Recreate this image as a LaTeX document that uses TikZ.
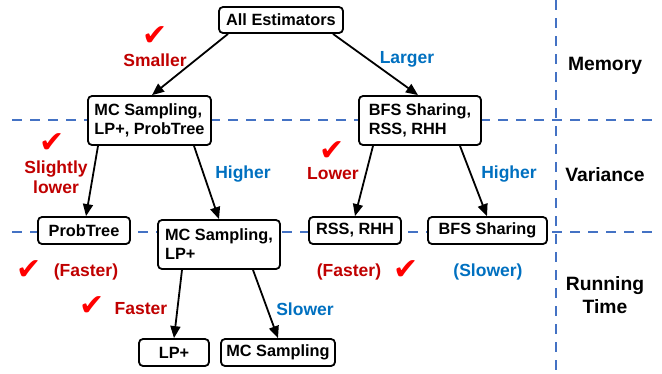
\documentclass[tikz,border=0pt]{standalone}
\usepackage{fontspec}
\setmainfont{Liberation Sans}
\newfontfamily\symfont{DejaVu Sans}
\usetikzlibrary{arrows.meta}
\definecolor{myred}{HTML}{C00000}
\definecolor{myblue}{HTML}{0070C0}
\definecolor{dashblue}{HTML}{4472C4}
\begin{document}
\begin{tikzpicture}[x=1pt,y=-1pt,
  box/.style={draw=black,line width=1.8pt,rounded corners=4pt,fill=white,font=\bfseries\fontsize{16.3}{19}\selectfont,align=left,inner sep=0pt},
  conn/.style={line width=1.8pt,-{Triangle[length=12pt,width=10pt]}},
  sep/.style={dashblue,line width=1.8pt,dash pattern=on 10pt off 8pt},
  redlbl/.style={text=myred,font=\bfseries\fontsize{17.5}{20}\selectfont,align=center},
  bluelbl/.style={text=myblue,font=\bfseries\fontsize{17.5}{20}\selectfont,align=center},
  side/.style={text=black,font=\bfseries\fontsize{19.3}{23}\selectfont,align=center},
  chk/.style={text=red,font=\symfont\fontsize{30}{30}\selectfont,inner sep=0pt}]
\useasboundingbox (0,0) rectangle (662,373);
% separators
\draw[sep] (12,120) -- (652,120);
\draw[sep] (12,232) -- (652,232);
\draw[sep] (556,0) -- (556,373);
% nodes
\node[box,minimum width=124pt,minimum height=26pt,align=center] (all) at (281,20) {All Estimators};
\node[box,minimum width=123pt,minimum height=49pt] (mclp) at (149.5,120.5) {MC Sampling,\\LP+, ProbTree};
\node[box,minimum width=122pt,minimum height=49pt] (bfsr) at (420,120.5) {BFS Sharing,\\RSS, RHH};
\node[box,minimum width=92pt,minimum height=27pt,align=center] (pt) at (84,230.5) {ProbTree};
\node[box,minimum width=122pt,minimum height=49pt] (mcl) at (219,244.5) {MC Sampling,\\LP+};
\node[box,minimum width=92pt,minimum height=27pt,align=center] (rss) at (355,230.5) {RSS, RHH};
\node[box,minimum width=119pt,minimum height=27pt,align=center] (bfs) at (487.5,230.5) {BFS Sharing};
\node[box,minimum width=70pt,minimum height=27pt,align=center] (lp) at (174,352.5) {LP+};
\node[box,minimum width=114pt,minimum height=27pt,align=center] (mc) at (278,352.5) {MC Sampling};
% connectors
\draw[conn] ([xshift=-53pt]all.south) -- ([xshift=2.5pt]mclp.north);
\draw[conn] ([xshift=52pt]all.south) -- ([xshift=-2pt]bfsr.north);
\draw[conn] ([xshift=-51.5pt]mclp.south) -- ([xshift=2pt]pt.north);
\draw[conn] ([xshift=44.5pt]mclp.south) -- ([xshift=0pt]mcl.north);
\draw[conn] ([xshift=-47pt]bfsr.south) -- ([xshift=0pt]rss.north);
\draw[conn] ([xshift=40pt]bfsr.south) -- ([xshift=-0.5pt]bfs.north);
\draw[conn] ([xshift=-37pt]mcl.south) -- ([xshift=0pt]lp.north);
\draw[conn] ([xshift=34pt]mcl.south) -- ([xshift=0pt]mc.north);
% labels
\node[chk] (c1) at (155,36) {✔};
\node[redlbl] (l1) at (155,60) {Smaller};
\node[bluelbl] (l2) at (407,59) {Larger};
\node[chk] (c2) at (52,143) {✔};
\node[redlbl] (l3) at (56,177) {Slightly\\lower};
\node[bluelbl] (l4) at (243,174) {Higher};
\node[chk] (c3) at (332,151) {✔};
\node[redlbl] (l5) at (333,174) {Lower};
\node[bluelbl] (l6) at (509,174) {Higher};
\node[chk] (c4) at (29,270) {✔};
\node[redlbl] (l7) at (86,272) {(Faster)};
\node[redlbl] (l8) at (349,272) {(Faster)};
\node[chk] (c5) at (406,270) {✔};
\node[bluelbl] (l9) at (488,272) {(Slower)};
\node[chk] (c6) at (92,306) {✔};
\node[redlbl] (l10) at (141,309) {Faster};
\node[bluelbl] (l11) at (305,309) {Slower};
\node[side] (s1) at (605,66) {Memory};
\node[side] (s2) at (605,175) {Variance};
\node[side] (s3) at (605,295) {Running\\Time};
\end{tikzpicture}
\end{document}
